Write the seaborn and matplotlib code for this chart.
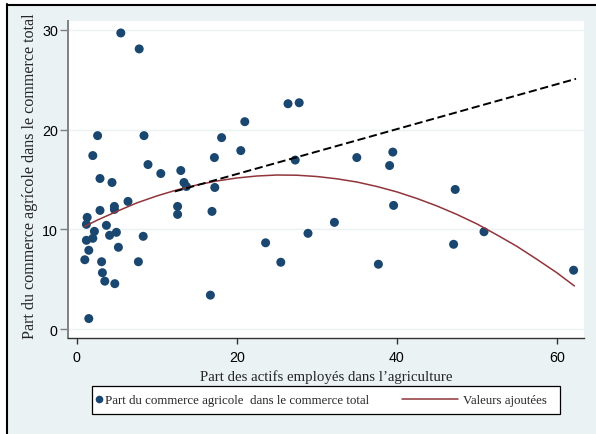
import numpy as np
import pandas as pd
import matplotlib
matplotlib.use("Agg")
import matplotlib.pyplot as plt
import seaborn as sns
from matplotlib.lines import Line2D
from matplotlib.patches import Rectangle

# ---------------- data ----------------
agri_employment = [5.5, 7.8, 26.4, 27.8, 21.0, 2.6, 8.4, 18.1, 2.0, 20.5,
                   17.2, 27.3, 8.9, 2.9, 4.4, 10.5, 13.0, 13.4, 13.7, 17.25,
                   6.4, 4.7, 4.7, 2.9, 12.6, 12.6, 16.9, 1.3, 1.2, 3.7,
                   2.2, 4.95, 1.2, 2.0, 4.1, 8.3, 1.5, 5.2, 1.0, 3.1,
                   7.7, 3.2, 3.5, 4.75, 16.7, 1.5, 23.6, 25.5, 28.9, 35.0,
                   39.5, 39.1, 47.3, 39.6, 32.2, 50.9, 47.1, 37.7, 62.1]
agri_trade_share = [29.7, 28.1, 22.6, 22.7, 20.8, 19.4, 19.4, 19.2, 17.4, 17.9,
                    17.2, 16.95, 16.5, 15.1, 14.7, 15.6, 15.9, 14.7, 14.3, 14.2,
                    12.8, 12.3, 12.0, 11.9, 12.3, 11.5, 11.8, 11.2, 10.5, 10.4,
                    9.8, 9.7, 8.9, 9.1, 9.4, 9.3, 7.9, 8.2, 6.95, 6.75,
                    6.75, 5.65, 4.8, 4.55, 3.4, 1.05, 8.65, 6.7, 9.6, 17.2,
                    17.75, 16.4, 14.0, 12.4, 10.7, 9.76, 8.5, 6.5, 5.9]

# fitted values (red curve)
fit_x = [1, 2.5, 5, 7.5, 10, 12.5, 15, 17.5, 20, 22.5, 25, 27.5, 30,
         32.5, 35, 37.5, 40, 42.5, 45, 47.5, 50, 52.5, 55, 57.5, 60, 62.2]
fit_y = [10.3, 10.9, 11.8, 12.65, 13.35, 13.95, 14.45, 14.85, 15.15, 15.35,
         15.45, 15.43, 15.3, 15.07, 14.75, 14.3, 13.76, 13.1, 12.35, 11.5,
         10.55, 9.45, 8.3, 7.0, 5.65, 4.32]

# dashed linear trend
trend_x = [12.25, 62.4]
trend_y = [13.8, 25.1]

x_ticks = [0, 20, 40, 60]
y_ticks = [0, 10, 20, 30]

x_title = "Part des actifs employés dans l\u2019agriculture"
y_title = "Part du commerce agrícole dans le commerce total"
legend_points = "Part du commerce agricole  dans le commerce total"
legend_line = "Valeurs ajoutées"

# ---------------- style ----------------
W, H = 596, 435
BG = "#EAF2F3"
NAVY = "#1A476F"
MAROON = "#90353B"
SERIF = ["Liberation Serif", "DejaVu Serif"]
SANS = ["Liberation Sans", "DejaVu Sans"]

sns.set_style("white")
plt.rcParams["font.family"] = SANS

df = pd.DataFrame({"x": agri_employment, "y": agri_trade_share})
fit_df = pd.DataFrame({"x": fit_x, "y": fit_y})
trend_df = pd.DataFrame({"x": trend_x, "y": trend_y})

fig = plt.figure(figsize=(W / 100, H / 100), dpi=100, facecolor="white")

# outer background panel with black left / top rule
fig.patches.append(Rectangle((8.3 / W, 0), 1 - 8.3 / W, (H - 6.7) / H,
                             transform=fig.transFigure, facecolor=BG,
                             edgecolor="none", zorder=-10))
fig.add_artist(Line2D([7.3 / W, 7.3 / W], [0, (H - 4.7) / H], color="black",
                      lw=1.5, transform=fig.transFigure))
fig.add_artist(Line2D([6.5 / W, 1], [(H - 5.7) / H, (H - 5.7) / H], color="black",
                      lw=1.5, transform=fig.transFigure))

ax = fig.add_axes([68 / W, 96 / H, 516 / W, 317 / H])
ax.set_facecolor("white")

sns.scatterplot(data=df, x="x", y="y", ax=ax, color=NAVY, s=42,
                edgecolor="none", linewidth=0, legend=False, zorder=3)
sns.lineplot(data=fit_df, x="x", y="y", ax=ax, color=MAROON, lw=1.1, zorder=4)
sns.lineplot(data=trend_df, x="x", y="y", ax=ax, color="black", lw=1.4,
             linestyle=(0, (4.2, 1.9)), zorder=4)

ax.set_xlim(-1.1, 63.4)
ax.set_ylim(-0.9, 30.9)
ax.set_xticks(x_ticks)
ax.set_yticks(y_ticks)
ax.set_xticklabels([str(v) for v in x_ticks], fontsize=10.3, family=SANS)
ax.set_yticklabels([str(v) for v in y_ticks], fontsize=10.3, family=SANS)

ax.grid(axis="y", color=BG, lw=1.0)
ax.grid(axis="x", visible=False)
ax.set_axisbelow(True)

for s in ["top", "right"]:
    ax.spines[s].set_visible(False)
ax.spines["left"].set_color("#808080")
ax.spines["left"].set_linewidth(1.4)
ax.spines["bottom"].set_color("#333333")
ax.spines["bottom"].set_linewidth(1.0)

ax.tick_params(axis="y", direction="out", length=5.8, width=1.0,
               color="#808080", pad=1.5, labelcolor="black", left=True)
ax.tick_params(axis="x", direction="out", length=4.3, width=1.0,
               color="#333333", pad=4.5, labelcolor="black", bottom=True)

ax.set_xlabel(x_title, family=SERIF, fontsize=10.7, labelpad=3.5)
ax.set_ylabel(y_title, family=SERIF, fontsize=11.6)
ax.yaxis.set_label_coords(-0.058, 0.514)

# legend: frame + two anchored entries
fig.patches.append(Rectangle((92 / W, (H - 415) / H), 468 / W, 28 / H,
                             transform=fig.transFigure, facecolor="white",
                             edgecolor="black", lw=0.9, zorder=5))
h1 = Line2D([], [], color=NAVY, marker="o", linestyle="none", markersize=5.5,
            markeredgewidth=0)
h2 = Line2D([], [], color=MAROON, lw=1.1)
ycen = (H - 401) / H
leg1 = fig.legend(handles=[h1], labels=[legend_points], loc="center left",
                  bbox_to_anchor=(94.3 / W, ycen), frameon=False,
                  borderaxespad=0, borderpad=0, handlelength=0.75,
                  handletextpad=0.05, prop={"family": SERIF, "size": 9.3})
leg2 = fig.legend(handles=[h2], labels=[legend_line], loc="center left",
                  bbox_to_anchor=(402 / W, ycen), frameon=False,
                  borderaxespad=0, borderpad=0, handlelength=4.33,
                  handletextpad=0.38, prop={"family": SERIF, "size": 9.3})
leg1.set_zorder(6)
leg2.set_zorder(6)

fig.savefig("out.png", dpi=100, facecolor=fig.get_facecolor())
